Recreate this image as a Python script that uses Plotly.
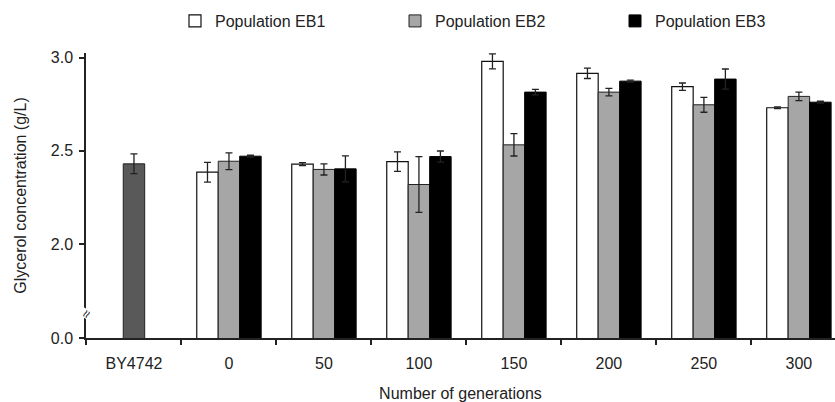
import plotly.graph_objects as go

categories = ["BY4742", "0", "50", "100", "150", "200", "250", "300"]
gens = categories[1:]

ref_value = [2.43]
ref_err = [0.053]

eb1 = [2.385, 2.428, 2.442, 2.98, 2.916, 2.844, 2.731]
eb1_err = [0.053, 0.008, 0.052, 0.04, 0.028, 0.02, 0.005]
eb2 = [2.444, 2.40, 2.319, 2.532, 2.815, 2.747, 2.792]
eb2_err = [0.045, 0.03, 0.15, 0.06, 0.02, 0.04, 0.023]
eb3 = [2.471, 2.403, 2.469, 2.815, 2.874, 2.885, 2.761]
eb3_err = [0.005, 0.07, 0.03, 0.015, 0.005, 0.054, 0.005]

y_ticks = [1.495, 2.0, 2.5, 3.0]
y_ticktext = ["0.0", "2.0", "2.5", "3.0"]

W = 0.226
err_style = dict(type="data", visible=True, color="#222", thickness=1.3, width=3.5)

fig = go.Figure()
fig.add_trace(go.Bar(x=categories[:1], y=ref_value, width=W, offset=-W / 2,
                     marker=dict(color="#595959", line=dict(color="#222", width=1)),
                     error_y=dict(array=ref_err, **err_style), showlegend=False))
fig.add_trace(go.Bar(x=gens, y=eb1, width=W, offset=-1.5 * W, name="Population EB1",
                     marker=dict(color="white", line=dict(color="#111", width=1.2)),
                     error_y=dict(array=eb1_err, **err_style)))
fig.add_trace(go.Bar(x=gens, y=eb2, width=W, offset=-0.5 * W, name="Population EB2",
                     marker=dict(color="#a6a6a6", line=dict(color="#222", width=1)),
                     error_y=dict(array=eb2_err, **err_style)))
fig.add_trace(go.Bar(x=gens, y=eb3, width=W, offset=0.5 * W, name="Population EB3",
                     marker=dict(color="black", line=dict(color="black", width=1)),
                     error_y=dict(array=eb3_err, **err_style)))

fig.update_layout(
    width=835, height=402, barmode="overlay",
    plot_bgcolor="white", paper_bgcolor="white",
    margin=dict(l=86, r=0, t=53, b=64),
    font=dict(family="Liberation Sans, Arial, sans-serif", size=16, color="#222"),
    legend=dict(orientation="h", x=0.136, y=0.99, yref="container", yanchor="top",
                xanchor="left", entrywidth=175, itemwidth=30,
                font=dict(size=16, color="#222"), traceorder="normal"),
    xaxis=dict(type="category", categoryorder="array", categoryarray=categories,
               range=[-0.505, 7.38], showline=True, linecolor="#222", linewidth=1.5,
               ticks="outside", tickson="boundaries", ticklen=5, tickcolor="#222",
               tickwidth=1.5, showgrid=False, tickfont=dict(size=16),
               ticklabelstandoff=10,
               title=dict(text="Number of generations", font=dict(size=16), standoff=18)),
    yaxis=dict(range=[1.495, 3.025], tickvals=y_ticks, ticktext=y_ticktext,
               showline=True, linecolor="#222", linewidth=1.5, ticks="outside",
               ticklen=5, tickcolor="#222", tickwidth=1.5, showgrid=False, zeroline=False,
               tickfont=dict(size=16), ticklabelstandoff=3,
               title=dict(text="Glycerol concentration (g/L)", font=dict(size=16), standoff=20)),
)

fig.add_annotation(x=0, xref="paper", xanchor="center", y=1.625, yref="y",
                   text="≈", showarrow=False, textangle=-60,
                   font=dict(size=14, color="#222"), bgcolor="white", borderpad=0)

fig.write_html("out.html")
